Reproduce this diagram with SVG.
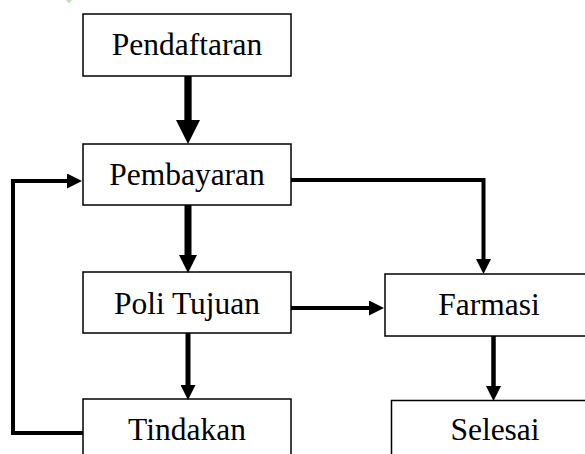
<svg xmlns="http://www.w3.org/2000/svg" width="585" height="454" viewBox="0 0 585 454">
<style>
.box{fill:#fff;stroke:#000;stroke-width:1.5}
.lbl{font-family:"Liberation Serif","Times New Roman",serif;font-size:31.5px;fill:#000;text-anchor:middle}
.c{fill:none;stroke:#000;stroke-linejoin:miter;stroke-linecap:butt}
</style>
<defs>
<marker id="hL" viewBox="0 0 24 24" refX="0" refY="12" markerWidth="24" markerHeight="24" markerUnits="userSpaceOnUse" orient="auto"><path d="M0,0 L24,12 L0,24 Z" fill="#000"/></marker>
<marker id="hM" viewBox="0 0 18 18" refX="0" refY="9" markerWidth="18" markerHeight="18" markerUnits="userSpaceOnUse" orient="auto"><path d="M0,0 L18,9 L0,18 Z" fill="#000"/></marker>
<marker id="hS" viewBox="0 0 15 15" refX="0" refY="7.5" markerWidth="15" markerHeight="15" markerUnits="userSpaceOnUse" orient="auto"><path d="M0,0 L15,7.5 L0,15 Z" fill="#000"/></marker>
</defs>
<rect width="585" height="454" fill="#fff"/>
<path d="M66,0 L72,0 L69,3.5 Z" fill="#bfe3bf"/>
<g id="pendaftaran"><rect class="box" x="83" y="14" width="208" height="62"/><text class="lbl" x="187" y="55">Pendaftaran</text></g>
<g id="pembayaran"><rect class="box" x="83" y="144" width="208" height="61"/><text class="lbl" x="187" y="185">Pembayaran</text></g>
<g id="poli-tujuan"><rect class="box" x="83" y="272" width="208" height="61"/><text class="lbl" x="187" y="314">Poli Tujuan</text></g>
<g id="tindakan"><rect class="box" x="83" y="399" width="208" height="70"/><text class="lbl" x="187" y="440">Tindakan</text></g>
<g id="farmasi"><rect class="box" x="385" y="274" width="215" height="62"/><text class="lbl" x="489" y="315">Farmasi</text></g>
<g id="selesai"><rect class="box" x="391.5" y="400.5" width="210" height="70"/><text class="lbl" x="495" y="440">Selesai</text></g>
<g id="connectors">
<path class="c" style="stroke-width:7.3" d="M188,76 V120" marker-end="url(#hL)"/>
<path class="c" style="stroke-width:7" d="M188,205 V255" marker-end="url(#hM)"/>
<path class="c" style="stroke-width:5" d="M188,333 V385" marker-end="url(#hS)"/>
<path class="c" style="stroke-width:4" d="M83,433 H13 V181 H67" marker-end="url(#hS)"/>
<path class="c" style="stroke-width:4" d="M291,180 H483.5 V259" marker-end="url(#hS)"/>
<path class="c" style="stroke-width:4" d="M291,308 H369" marker-end="url(#hS)"/>
<path class="c" style="stroke-width:4.5" d="M493.5,336 V386" marker-end="url(#hS)"/>
</g>
</svg>
